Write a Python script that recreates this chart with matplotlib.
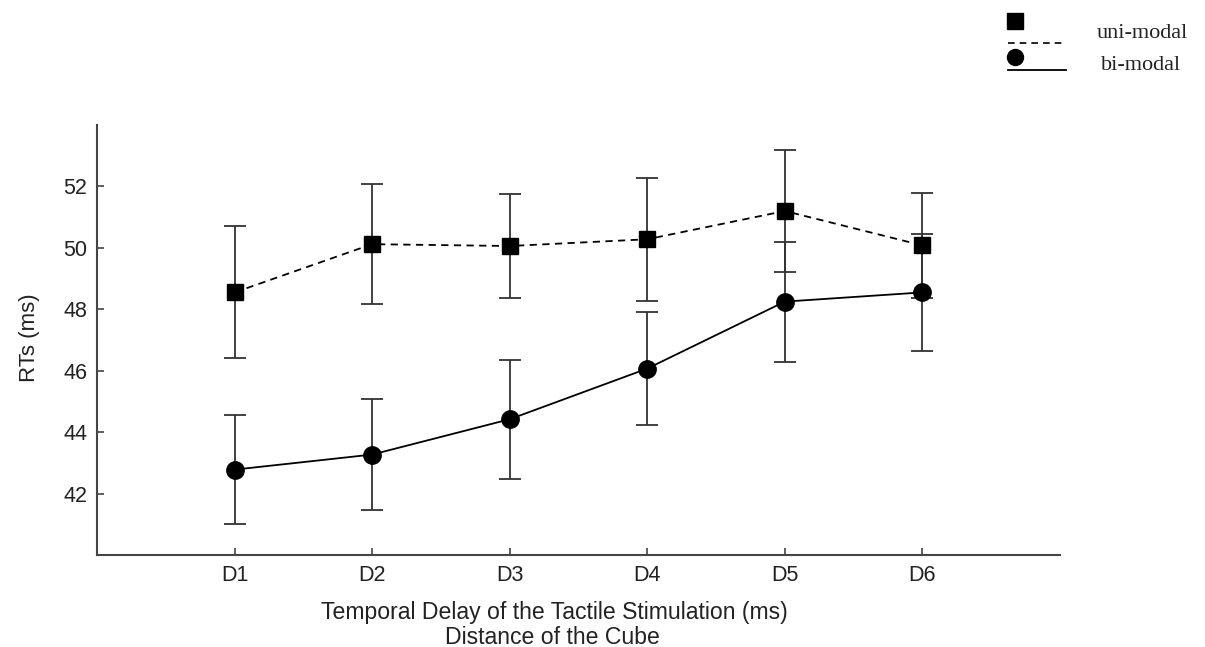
import matplotlib
matplotlib.use("Agg")
import matplotlib.pyplot as plt
from matplotlib.lines import Line2D

categories = ["D1", "D2", "D3", "D4", "D5", "D6"]
uni_mean = [48.55, 50.12, 50.06, 50.28, 51.20, 50.08]
uni_err = [2.15, 1.95, 1.70, 2.00, 1.98, 1.70]
bi_mean = [42.78, 43.27, 44.42, 46.07, 48.25, 48.55]
bi_err = [1.77, 1.80, 1.93, 1.85, 1.95, 1.90]
yticks = [42, 44, 46, 48, 50, 52]

plt.rcParams['font.family'] = ['Liberation Sans', 'DejaVu Sans']

fig = plt.figure(figsize=(12.05, 6.47), dpi=100)
ax = fig.add_axes([97/1205, 1-555/647, (1060-97)/1205, (555-125)/647])

x = list(range(1, len(categories) + 1))
axis_col = '#444444'
err_col = '#333333'
txt_col = '#222222'

ax.errorbar(x, uni_mean, yerr=uni_err, fmt='s', linestyle='--', color='black',
            ecolor=err_col, elinewidth=1.3, capsize=8, capthick=1.3,
            markersize=12, linewidth=1.3, dashes=(4, 3), zorder=3)
ax.errorbar(x, bi_mean, yerr=bi_err, fmt='o', linestyle='-', color='black',
            ecolor=err_col, elinewidth=1.3, capsize=8, capthick=1.3,
            markersize=12.5, linewidth=1.3, zorder=3)

ax.set_xlim(0, 7)
ax.set_ylim(40, 54)
ax.set_xticks(x)
ax.set_xticklabels(categories)
ax.set_yticks(yticks)
ax.tick_params(direction='in', length=5, width=1.2, color=axis_col,
               labelsize=15.5, labelcolor=txt_col, pad=7)
for s in ['top', 'right']:
    ax.spines[s].set_visible(False)
for s in ['left', 'bottom']:
    ax.spines[s].set_color(axis_col)
    ax.spines[s].set_linewidth(1.5)

def fx(px):
    return px/1205
def fy(py):
    return 1-py/647

fig.text(fx(30), fy(338), 'RTs (ms)', rotation=90, ha='center', va='center',
         fontsize=16, color=txt_col)
fig.text(fx(554), fy(613), 'Temporal Delay of the Tactile Stimulation (ms)',
         ha='center', va='center', fontsize=16.6, color=txt_col)
fig.text(fx(552), fy(637), 'Distance of the Cube',
         ha='center', va='center', fontsize=16.6, color=txt_col)

# manual legend (figure coords)
fig.add_artist(Line2D([fx(1015)], [fy(20.5)], marker='s', color='black', markersize=11.5,
                      linestyle='none', transform=fig.transFigure))
fig.add_artist(Line2D([fx(1008), fx(1066)], [fy(43), fy(43)], color='black',
                      linestyle='--', dashes=(4, 3), linewidth=1.2, transform=fig.transFigure))
fig.add_artist(Line2D([fx(1015)], [fy(57)], marker='o', color='black', markersize=11.5,
                      linestyle='none', transform=fig.transFigure))
fig.add_artist(Line2D([fx(1008), fx(1066)], [fy(69.5), fy(69.5)], color='black',
                      linestyle='-', linewidth=1.3, transform=fig.transFigure))
fig.text(fx(1142), fy(33), 'uni-modal', ha='center', va='center', fontsize=16,
         family=['Liberation Serif', 'DejaVu Serif'], color=txt_col)
fig.text(fx(1141), fy(66), 'bi-modal', ha='center', va='center', fontsize=16,
         family=['Liberation Serif', 'DejaVu Serif'], color=txt_col)

fig.savefig('out.png', dpi=100, facecolor='white')
